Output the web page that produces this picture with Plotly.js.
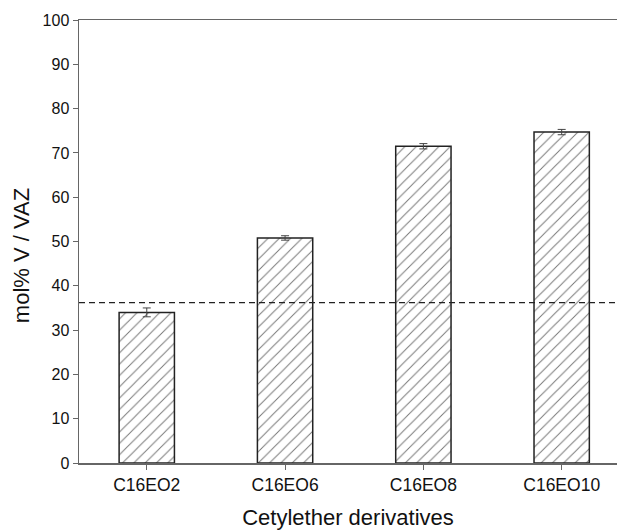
<!DOCTYPE html>
<html><head><meta charset="utf-8">
<script src="https://cdn.plot.ly/plotly-3.0.1.min.js"></script>
<style>body{margin:0;padding:0;background:#fff}</style>
</head><body>
<div id="chart" style="width:617px;height:530px"></div>
<script>
const categories = ["C16EO2", "C16EO6", "C16EO8", "C16EO10"];
const values = [34.0, 50.8, 71.5, 74.7];
const errors = [1.0, 0.5, 0.6, 0.6];
const referenceLevel = 36.2;
const yTicks = [0, 10, 20, 30, 40, 50, 60, 70, 80, 90, 100];
const xTitle = 'Cetylether derivatives';
const yTitle = 'mol% V / VAZ';

const trace = {
  type: 'bar',
  x: categories,
  y: values,
  width: 0.4,
  marker: {
    color: 'white',
    line: {color: '#222', width: 1.5},
    pattern: {shape: '/', fgcolor: '#777', bgcolor: 'white', size: 8, solidity: 0.12}
  },
  error_y: {type: 'data', array: errors, visible: true, color: '#444', thickness: 1, width: 4}
};

const layout = {
  width: 617, height: 530,
  margin: {l: 79, r: 0, t: 20, b: 67},
  paper_bgcolor: 'white', plot_bgcolor: 'white',
  font: {family: 'Liberation Sans, Arial, sans-serif', color: '#111', size: 16},
  showlegend: false,
  xaxis: {
    range: [-0.49, 3.4],
    showline: true, linecolor: '#666', linewidth: 1.5, mirror: true,
    ticks: 'outside', ticklen: 5, tickcolor: '#666',
    showgrid: false, zeroline: false,
    tickfont: {size: 17.5},
    title: {text: xTitle, font: {size: 22}, standoff: 18}
  },
  yaxis: {
    range: [0, 100],
    tickvals: yTicks,
    showline: true, linecolor: '#666', linewidth: 1.5,
    ticks: 'outside', ticklen: 5, tickcolor: '#666',
    showgrid: false, zeroline: false,
    tickfont: {size: 16}
  },
  annotations: [{
    text: yTitle, textangle: -90, showarrow: false,
    xref: 'paper', x: -0.108, xanchor: 'center',
    yref: 'paper', y: 0.469, yanchor: 'middle',
    font: {size: 22, color: '#111'}
  }],
  shapes: [{
    type: 'line', xref: 'paper', x0: 0, x1: 1, yref: 'y', y0: referenceLevel, y1: referenceLevel,
    line: {color: '#222', width: 1.3, dash: '6px,4px'}
  }]
};

Plotly.newPlot('chart', [trace], layout, {displayModeBar: false, staticPlot: true});
</script>
</body></html>
